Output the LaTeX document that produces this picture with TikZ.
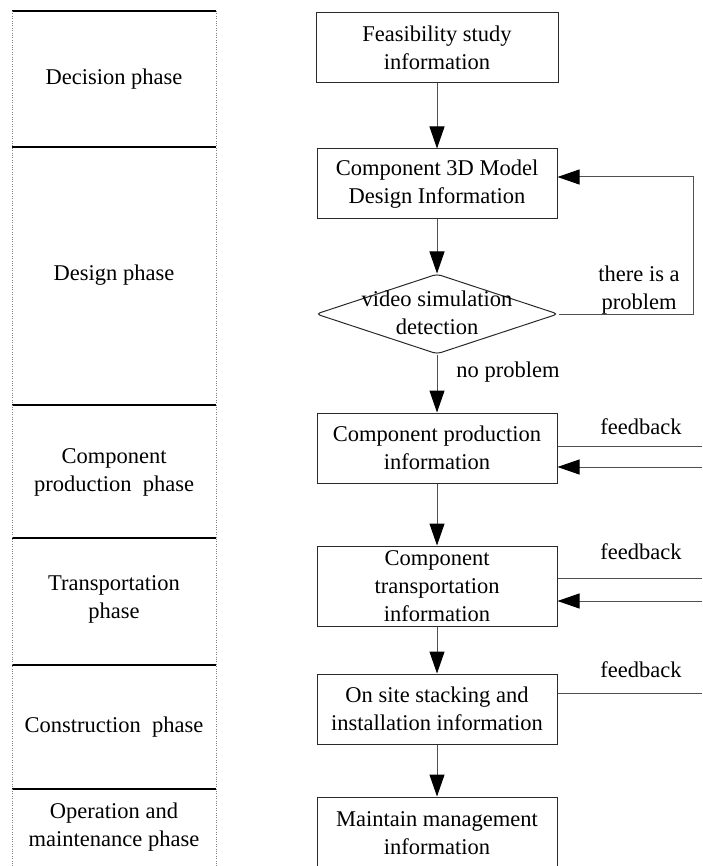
\documentclass[tikz,border=0pt]{standalone}
\usepackage{fontspec}
\setmainfont{Liberation Serif}
\usetikzlibrary{arrows.meta,shapes.geometric}
\definecolor{boxgray}{HTML}{2A2A2A}
\definecolor{linegray}{HTML}{505050}

\begin{document}
\begin{tikzpicture}[x=1pt, y=-1pt,
  font=\fontsize{22.5}{28}\selectfont,
  box/.style={draw=boxgray, line width=1pt, minimum width=240pt, minimum height=70pt, align=center, inner sep=1pt},
  lbl/.style={align=center, inner sep=0pt},
  ln/.style={draw=linegray, line width=1pt},
  arr/.style={ln, -{Triangle[length=22pt,width=15pt,color=black]}}]
\clip (0,0) rectangle (702,866);
%\draw[help lines, step=50] (0,0) grid (702,866);

% Phases
\foreach \y in {11,147,405,538,665,789}
  \draw[line width=1.3pt] (12,\y) -- (216,\y);
\draw[gray, dotted] (12,11) -- (12,866);
\draw[gray, dotted] (216,11) -- (216,866);

\node[lbl] (decision) at (114,79) {Decision phase};
\node[lbl] (designph) at (114,275) {Design phase};
\node[lbl] (prodph) at (114,472) {Component\\production\ \ phase};
\node[lbl] (transph) at (114,599) {Transportation\\phase};
\node[lbl] (constrph) at (114,727) {Construction\ \ phase};
\node[lbl] (operph) at (114,827) {Operation and\\maintenance phase};

% Flow
\node[box, minimum width=242pt] (feas) at (437,48) {Feasibility study\\information};
\node[box] (design) at (437,184) {Component 3D Model\\Design Information};
\node[draw=boxgray, line width=1pt, diamond, minimum width=242pt, minimum height=80pt, inner sep=0pt, rounded corners=4pt] (dia) at (437,314) {};
\node[lbl] (diatxt) at (437,313) {video simulation\\detection};
\node[box] (prod) at (437,448) {Component production\\information};
\node[box, minimum height=80pt, inner sep=0pt] (trans) at (437,586) {Component\\transportation\\information};
\node[box] (site) at (437,709) {On site stacking and\\installation information};
\node[box, minimum height=72pt] (maint) at (437,833) {Maintain management\\information};

\draw[arr] (feas) -- (design);
\draw[arr] (design) -- (dia);
\draw[arr] (dia) -- (prod);
\draw[arr] (prod) -- (trans);
\draw[arr] (trans) -- (site);
\draw[arr] (site) -- (maint);

\node[lbl] (nop) at (508,372) {no problem};

% Loop back
\coordinate (loop) at (693,177);
\draw[arr] (dia.east) -- (dia.east -| loop) -- (loop) -- (loop -| design.east);
\node[lbl] (prob) at (639,290) {there is a\\problem};

% Feedback
\coordinate (pout) at (702,446);
\coordinate (pin) at (702,467);
\draw[ln] (prod.east |- pout) -- (pout);
\draw[arr] (pin) -- (prod.east |- pin);
\node[lbl] (fbprod) at (641,427) {feedback};

\coordinate (tout) at (702,578);
\coordinate (tin) at (702,601);
\draw[ln] (trans.east |- tout) -- (tout);
\draw[arr] (tin) -- (trans.east |- tin);
\node[lbl] (fbtrans) at (641,552) {feedback};

\coordinate (sout) at (702,693);
\draw[ln] (site.east |- sout) -- (sout);
\node[lbl] (fbsite) at (641,670) {feedback};

\end{tikzpicture}
\end{document}
